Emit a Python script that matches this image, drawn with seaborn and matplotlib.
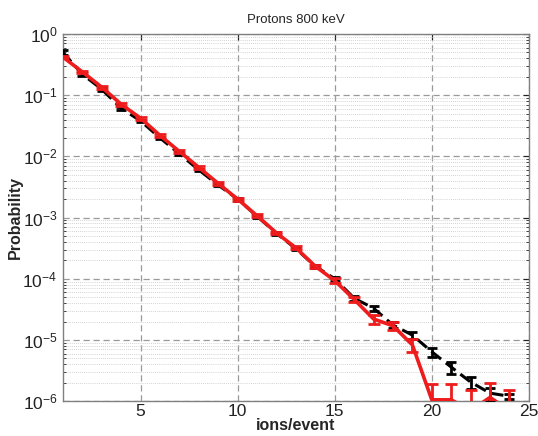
import numpy as np
import pandas as pd
import seaborn as sns
import matplotlib
matplotlib.use("Agg")
import matplotlib.pyplot as plt
from matplotlib.ticker import FixedLocator, NullFormatter, LogFormatterSciNotation

sns.set_style("white")
plt.rcParams['font.family'] = ['Liberation Sans', 'DejaVu Sans']

# ions per event
ions = [1, 2, 3, 4, 5, 6, 7, 8, 9, 10, 11, 12, 13, 14, 15, 16, 17, 18, 19, 20, 21, 22, 23, 24]

# measured (black, dashed)
prob_black = [0.50, 0.22, 0.125, 0.061, 0.038, 0.020, 0.011, 0.0060, 0.0034, 0.0020,
              0.00105, 0.00055, 0.00031, 0.00016, 1.0e-4, 4.8e-5, 3.3e-5, 1.75e-5,
              1.2e-5, 6.4e-6, 3.6e-6, 2.05e-6, 1.35e-6, 1.2e-6]
err_black = [0.05, 0.015, 0.008, 0.004, 0.002, 0.0011, 0.0006, 0.0003, 0.00017, 0.0001,
             6e-5, 3e-5, 1.8e-5, 1e-5, 7e-6, 4e-6, 3.5e-6, 2e-6,
             1.6e-6, 1.1e-6, 0.8e-6, 0.45e-6, 0.3e-6, 0.12e-6]

# simulated (red, solid)
prob_red = [0.42, 0.24, 0.135, 0.071, 0.042, 0.022, 0.012, 0.0066, 0.0036, 0.0020,
            0.00107, 0.00056, 0.00032, 0.00016, 9.3e-5, 4.6e-5, 2.2e-5, 1.7e-5,
            8.3e-6, 1.05e-6, 1.05e-6, 7e-7, 1.15e-6, 7e-7]
err_red = [0.02, 0.012, 0.007, 0.004, 0.002, 0.0012, 0.0006, 0.0003, 0.00018, 0.0001,
           6e-5, 3e-5, 1.8e-5, 1e-5, 8e-6, 5e-6, 3.5e-6, 2.5e-6,
           2e-6, 0.85e-6, 0.85e-6, 0.8e-6, 0.85e-6, 0.8e-6]

x_ticks = [5, 10, 15, 20, 25]
y_decades = [1e-6, 1e-5, 1e-4, 1e-3, 1e-2, 1e-1, 1]

df = pd.DataFrame({'ions': ions * 2,
                   'prob': prob_black + prob_red,
                   'err': err_black + err_red,
                   'set': ['black'] * len(ions) + ['red'] * len(ions)})

fig = plt.figure(figsize=(5.38, 4.36), dpi=100)
ax = fig.add_axes([0.117, 0.080, 0.866, 0.842])

# grid
ax.set_yscale('log')
ax.grid(True, which='major', axis='both', linestyle=(0, (5, 3)), color='#9a9a9a', linewidth=0.9)
ax.grid(True, which='minor', axis='y', linestyle=(0, (1, 1.5)), color='#c4c4c4', linewidth=0.6)

db = df[df['set'] == 'black']
dr = df[df['set'] == 'red']

ax.errorbar(db['ions'], db['prob'], yerr=db['err'], fmt='none', ecolor='black',
            elinewidth=2, capsize=3.5, capthick=2, zorder=3)
sns.lineplot(data=db, x='ions', y='prob', ax=ax, color='black', linewidth=2.2,
             linestyle=(0, (4, 2)), zorder=3)

ax.errorbar(dr['ions'], dr['prob'], yerr=dr['err'], fmt='none', ecolor='#ee1c1c',
            elinewidth=2, capsize=4.5, capthick=2, zorder=4)
sns.lineplot(data=dr, x='ions', y='prob', ax=ax, color='#ee1c1c', linewidth=2.6, zorder=4)

ax.set_xlim(1, 25)
ax.set_ylim(1e-6, 1)
ax.xaxis.set_major_locator(FixedLocator(x_ticks))
ax.yaxis.set_major_locator(FixedLocator(y_decades))
ax.yaxis.set_major_formatter(LogFormatterSciNotation())
minor = [m * d for d in y_decades[:-1] for m in range(2, 10)]
ax.yaxis.set_minor_locator(FixedLocator(minor))
ax.yaxis.set_minor_formatter(NullFormatter())

ax.tick_params(axis='both', which='major', direction='in', length=4, labelsize=12.5,
               colors='#222222', top=True, right=True)
ax.tick_params(axis='y', which='minor', direction='in', length=2, right=True, left=True)
ax.tick_params(axis='x', which='major', pad=2)
ax.tick_params(axis='y', which='major', pad=4)
for sp in ax.spines.values():
    sp.set_color('#808080')
    sp.set_linewidth(1.0)

ax.set_xlabel('ions/event', fontsize=11.5, fontweight='bold', labelpad=-1)
ax.set_ylabel('Probability', fontsize=11.5, fontweight='bold', labelpad=0)
ax.set_title('Protons 800 keV', fontsize=9.5, pad=8)

fig.savefig('out.png', dpi=100)
